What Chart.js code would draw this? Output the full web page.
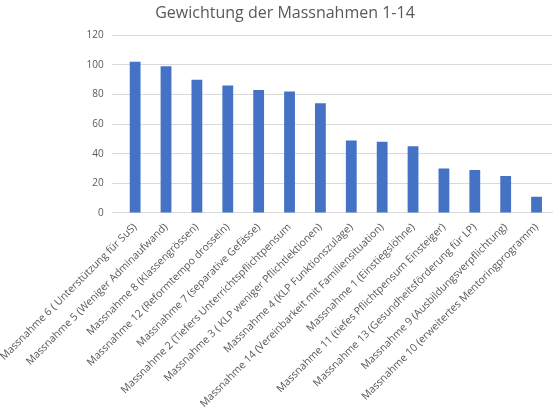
<!DOCTYPE html>
<html><head><meta charset="utf-8">
<script src="https://cdn.jsdelivr.net/npm/chart.js@4/dist/chart.umd.min.js"></script>
<style>html,body{margin:0;background:#fff}#w{width:560px;height:412px}</style>
</head><body><div id="w"><canvas id="c"></canvas></div>
<script>
const categories = [
"Massnahme 6 ( Unterstützung für SuS)",
"Massnahme 5 (Weniger Adminaufwand)",
"Massnahme 8 (Klassengrössen)",
"Massnahme 12 (Reformtempo drosseln)",
"Massnahme 7 (separative Gefässe)",
"Massnahme 2 (Tiefers Unterrichtspflichtpensum",
"Massnahme 3 ( KLP weniger Pflichtlektionen)",
"Massnahme 4 (KLP Funktionszulage)",
"Massnahme 14 (Vereinbarkeit mit Familiensituation)",
"Massnahme 1 (Einstiegslöhne)",
"Massnahme 11 (tiefes Pflichtpensum Einsteiger)",
"Massnahme 13 (Gesundheitsförderung für LP)",
"Massnahme 9 (Ausbildungsverpflichtung)",
"Massnahme 10 (erweitertes Mentoringprogramm)"];
const values = [102,99,90,86,83,82,74,49,48,45,30,29,25,11];
const yTicks = [0,20,40,60,80,100,120];
new Chart(document.getElementById('c'),{
 type:'bar',
 data:{labels:categories,datasets:[{data:values,backgroundColor:'#4472C4',barPercentage:0.35,categoryPercentage:1}]},
 options:{responsive:true,maintainAspectRatio:false,animation:false,
  layout:{padding:{left:18,right:8,top:2,bottom:2}},
  plugins:{legend:{display:false},tooltip:{enabled:false},
   title:{display:true,text:'Gewichtung der Massnahmen 1-14',color:'#595959',font:{family:'Open Sans',size:16,weight:'normal'},padding:{top:2,bottom:12}}},
  scales:{
   x:{grid:{display:false},border:{color:'#d9d9d9'},ticks:{color:'#595959',font:{family:'Open Sans',size:10.5},maxRotation:45,minRotation:45,autoSkip:false,padding:0}},
   y:{min:0,max:120,afterBuildTicks:a=>{a.ticks=yTicks.map(v=>({value:v}));},grid:{color:'#d9d9d9'},border:{display:false},ticks:{color:'#595959',font:{family:'Open Sans',size:10},padding:8}}
  }}
});
</script></body></html>
